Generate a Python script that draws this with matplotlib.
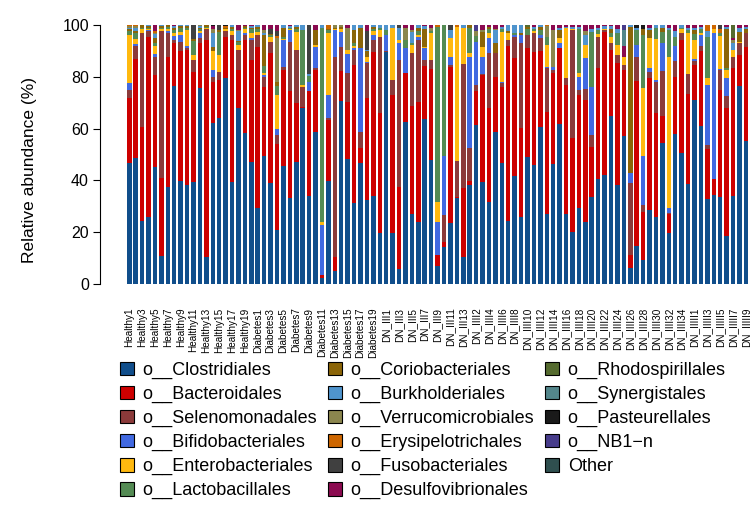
import matplotlib
matplotlib.use('Agg')
import matplotlib.pyplot as plt
from matplotlib.patches import Patch
import numpy as np

plt.rcParams['font.family'] = ['Liberation Sans', 'DejaVu Sans']

# sample groups (labels on the x axis)
groups = [('Healthy', 20), ('Diabetes', 20), ('DN_III', 13), ('DN_IIII', 35), ('DN_IIIII', 9)]
samples = [g + str(i) for g, n in groups for i in range(1, n + 1)]

# relative abundance (%) per order, one value per sample
clostridiales = [46.6, 48.5, 24.3, 26, 45, 10.8, 37.6, 76.4, 39.8, 38.2,
                 39.3, 75.8, 10.6, 62, 64.2, 79.7, 39.5, 68, 58.2, 47,
                 29.5, 49.4, 38.9, 20.8, 45.7, 33.3, 47.2, 67.8, 34.1, 58.8,
                 2.2, 39.8, 5.1, 70.7, 48.3, 31.1, 46.8, 32.4, 34.1, 19.6,
                 89.4, 19.6, 5.7, 62.7, 26.9, 24, 63.7, 47.9, 7, 14.4,
                 23.7, 33.3, 10.3, 38.2, 61.4, 39.5, 31.5, 58.6, 46.8, 24.3,
                 41.7, 26, 49.2, 45.9, 60.5, 27, 46.3, 61.6, 27, 20.2,
                 29.5, 24, 33.7, 40.5, 42.1, 64.9, 38.2, 57.1, 6, 14.7,
                 9.3, 28.6, 26, 54.3, 19.8, 57.8, 50.7, 38.6, 71, 61,
                 32.7, 34.4, 33.5, 18.5, 34.1, 76.6, 55.3]
bacteroidales = [25.4, 38.5, 36.2, 69.5, 35.7, 30.2, 50.2, 16.6, 50.2, 52.2,
                 42.7, 17.2, 83.6, 16, 14.6, 15.8, 54.7, 14.6, 36, 39.5,
                 62.1, 26.8, 50.1, 33.2, 36.9, 41.3, 22.8, 0.5, 40.4, 23.8,
                 1.3, 23.5, 5.2, 11.5, 22.1, 53.5, 5.6, 39.6, 55.6, 46.3,
                 0.3, 53.4, 31.9, 18.6, 42, 46.4, 20.6, 35, 4.2, 1.9,
                 60.2, 0.4, 26.9, 1.7, 13.1, 41.2, 36.3, 21.4, 29.4, 67.6,
                 45.7, 34.1, 41.8, 43.8, 29.5, 39.5, 35, 29.4, 49.8, 36,
                 43.5, 47, 19.3, 42.8, 55.3, 25.4, 47, 25.5, 5.2, 63.7,
                 18.6, 50.8, 40.2, 10.6, 7.1, 22.2, 43.5, 34.8, 13.6, 29,
                 19.3, 6, 41.4, 49.3, 49.2, 11.8, 36.3]
selenomonadales = [3, 5, 36.3, 2, 7.1, 56.8, 9, 1.3, 3.5, 0.8,
                   4.5, 2, 4.1, 2, 3.2, 2, 2, 7.7, 2, 7.7,
                   4.4, 3.8, 4.5, 3.5, 1.3, 18.9, 20.3, 7.9, 0, 0.7,
                   0, 0.7, 77.5, 9.4, 11.2, 5.7, 6.4, 13.2, 4.5, 29.6,
                   0.3, 5.8, 48.9, 0, 20.1, 23.8, 2.2, 3.6, 0, 10.3,
                   0.6, 13.9, 47.6, 12.5, 2.3, 0.4, 21.2, 9, 1.3, 2.3,
                   8.1, 32.8, 5.1, 7.1, 4.9, 16.8, 1.3, 0, 2.6, 41.8,
                   1.9, 4.2, 4.5, 12.2, 0.6, 2.6, 3.2, 2, 27.7, 9.4,
                   2.6, 2.3, 11.9, 17.5, 0.7, 6.2, 2.6, 7.7, 1.6, 1.9,
                   1.7, 0, 7.7, 4.8, 4.2, 4.5, 5.2]
bifidobacteriales = [2.7, 0.8, 0.2, 0.5, 0.9, 0, 0.7, 1.5, 2.5, 0.5,
                     0, 2, 0, 2.6, 0, 0, 0, 0, 0.9, 0.6,
                     0, 0.6, 0, 2.2, 10.3, 4.5, 0, 0, 3.5, 8.3,
                     19.3, 9, 10.2, 5.8, 7.2, 0.7, 32.2, 0.6, 1.9, 0,
                     6, 0, 6.5, 9.7, 0, 1, 4.5, 0, 12.8, 22.8,
                     3.3, 0, 0, 35.4, 16.8, 6.4, 5.9, 0, 0.5, 0,
                     0.5, 3.2, 0, 0, 1.3, 0.5, 1.3, 1.9, 0, 0,
                     5.1, 11.9, 18.7, 0, 0, 0, 0, 0, 3.8, 4.5,
                     18.9, 1.6, 0.6, 10.8, 1.9, 5.7, 0, 0, 0.5, 4.2,
                     23.1, 56.4, 0.5, 6.8, 0, 0, 0]
enterobacteriales = [18.3, 1.7, 1.5, 0.5, 3.3, 0.7, 1, 1, 1.3, 6.2,
                     1.9, 0.5, 0.5, 7.4, 6.4, 1, 1.3, 2, 1.3, 2.2,
                     1.3, 0.7, 2, 13.3, 0.5, 0.5, 7.1, 0.6, 0, 0.7,
                     1.2, 23.8, 0.5, 1, 1.5, 1, 0, 2, 1.5, 2.5,
                     0, 19.9, 1.3, 0, 3.3, 1, 0.5, 10.3, 7.8, 0,
                     7.1, 51.8, 13.9, 1.3, 0, 4.1, 1.9, 0, 19.4, 2.6,
                     0, 0, 0, 0.7, 0, 8.5, 0, 1.9, 19.3, 0.5,
                     1.3, 5.2, 0, 1, 0.5, 2.6, 3.9, 3.2, 0, 0,
                     26.4, 11.6, 15.9, 0, 58.3, 0, 1.5, 15.9, 7.5, 1,
                     2.6, 1.5, 12.7, 3.2, 2.8, 0.5, 0]
lactobacillales = [1.5, 2.5, 0.5, 0.5, 1, 0.5, 0.8, 1.2, 1.5, 1,
                   5.6, 0.8, 0.5, 0, 9, 0, 1, 1, 0.6, 1.5,
                   1, 2.7, 0.5, 3.4, 0.5, 0.5, 1, 21.2, 2.5, 0,
                   74.7, 1.2, 0, 0, 0, 1, 0, 0, 1, 1,
                   2, 0, 0, 3.2, 0.6, 1.5, 0, 1, 67.3, 50.6,
                   0, 0, 0, 9.9, 2, 0, 1.5, 0, 1, 0,
                   1, 0, 2.5, 1, 1.9, 3, 0, 0, 0, 0,
                   17, 0, 21.2, 1.5, 0, 1.3, 4.5, 0, 0, 5.7,
                   20.3, 0, 4.1, 4.2, 10.3, 3.6, 0.7, 1, 2.5, 1.5,
                   16.1, 0, 1.2, 0.7, 0, 0, 0]
coriobacteriales = [1, 0.5, 1, 0.5, 2, 0.5, 0.7, 1, 0.7, 0.6,
                    0.5, 0.7, 0.7, 1.5, 0.8, 0.5, 0.8, 0.5, 0.5, 0.5,
                    0.9, 12, 0.5, 1.6, 3.8, 0, 0.8, 0, 0, 5.7,
                    0, 0.5, 0.5, 1, 0, 5, 7.7, 2, 0.7, 0,
                    0, 0, 0, 0, 0, 1, 7, 0, 0, 0,
                    0, 0, 0, 1, 0, 5.8, 1, 4, 0, 0.7,
                    0, 0.9, 0.7, 0, 1.1, 0, 0, 3.2, 0, 0,
                    0, 0, 0, 0, 0, 1.5, 0, 0, 56.7, 0,
                    2.4, 3.1, 0, 1.3, 0, 0, 0, 0, 1.3, 0,
                    0, 0, 0, 15, 0, 4, 1.5]
burkholderiales = [0.5, 1.5, 0, 0.5, 1.5, 0.5, 0, 0.5, 0.5, 0.5,
                   0, 0.5, 0, 5.5, 0, 0, 0.7, 3.7, 0, 0.5,
                   0.8, 1, 0, 0, 1, 0.5, 0.8, 2, 0.7, 0,
                   1.3, 0, 0, 0, 0, 2, 1.3, 0.7, 0.7, 1,
                   2, 1.3, 4.4, 0, 4.5, 1.3, 1, 0, 0, 0,
                   3.1, 0, 1.3, 0, 0, 0, 0, 5.1, 1, 2.5,
                   3, 3, 0, 0.8, 0.8, 0, 0, 1, 0.7, 0.8,
                   1, 3.8, 1, 1, 1, 1.2, 1.7, 0, 0.6, 1,
                   0, 0.8, 1.3, 1.3, 0.7, 2.3, 1, 1, 1, 0.7,
                   2, 0, 0, 1, 2.9, 1.3, 1]
verrucomicrobiales = [0.5, 0.5, 0, 0, 0.5, 0, 0, 0, 0, 0,
                      0, 0.5, 0, 1.5, 0, 0, 0, 0.5, 0, 0,
                      0, 1, 0, 16.8, 0, 0, 0, 0, 0, 0,
                      0, 0, 1, 0.6, 8.7, 0, 0, 0, 0, 0,
                      0, 0, 0, 4.5, 0.6, 0, 0, 1, 0, 0,
                      0, 0, 0, 0, 2, 0.8, 0, 0.5, 0, 0,
                      0, 0, 0, 0, 0, 4.2, 14.1, 0, 0, 0,
                      0, 1.5, 0, 0, 0, 0, 0, 0, 0, 0,
                      0, 0, 0, 0, 0, 0, 0, 0, 0, 0,
                      0, 0, 0, 0, 1.2, 0, 0]
erysipelotrichales = [0.5, 0.5, 0, 0, 0.5, 0, 0, 0, 0, 0,
                      0, 0, 0, 0, 0, 0.5, 0, 0, 0, 0,
                      0, 0, 0, 1, 0, 0, 0, 0, 0, 0,
                      0, 1.5, 0, 0, 0, 0, 0, 0, 0, 0,
                      0, 0, 0, 0, 0, 0, 0, 0, 0.9, 0,
                      0, 0.6, 0, 0, 0, 0, 0, 0, 0, 0,
                      0, 0, 0, 0, 0, 0.5, 0, 0, 0, 0,
                      0, 0, 0, 0, 0, 0, 0, 0, 0, 0,
                      0, 0, 0, 0, 0, 0, 0, 0, 0, 0,
                      2.5, 1.7, 1.5, 0, 0, 0, 0]
fusobacteriales = [0, 0, 0, 0, 0, 0, 0, 0, 0, 0,
                   5.5, 0, 0, 0, 1.8, 0, 0, 0, 0, 0,
                   0, 0, 2, 1.7, 0, 0, 0, 0, 18.8, 0,
                   0, 0, 0, 0, 0, 0, 0, 7.2, 0, 0,
                   0, 0, 1.3, 0, 0, 0, 0, 0, 0, 0,
                   2, 0, 0, 0, 0, 0, 0, 0, 0, 0,
                   0, 0, 0, 0, 0, 0, 0, 0, 0, 0,
                   0, 0, 0, 0, 0, 0, 0, 0, 0, 0,
                   0, 0, 0, 0, 0, 0, 0, 0, 0, 0,
                   0, 0, 1.5, 0, 0, 0, 0]
desulfovibrionales = [0, 0, 0, 0, 2.5, 0, 0, 0.5, 0, 0,
                      0, 0, 0, 1, 0, 0, 0, 2, 0.5, 0.5,
                      0, 2, 1.5, 2.5, 0, 0.5, 0, 0, 0, 2,
                      0, 0, 0, 0, 1, 0, 0, 2.3, 0, 0,
                      0, 0, 0, 1.3, 2, 0, 0.5, 1.2, 0, 0,
                      0, 0, 0, 0, 0, 1.8, 0.7, 1.4, 0.6, 0,
                      0, 0, 0, 0.7, 0, 0, 2, 1, 0.6, 0.7,
                      0.7, 2.4, 1.6, 1, 0.5, 0.5, 1.5, 3.9, 0, 0,
                      0, 1.2, 0, 0, 1.2, 2.2, 0, 1, 1, 0.7,
                      0, 0, 0, 0.7, 0.6, 1.3, 0.7]
rhodospirillales = [0] * 62 + [0.7] + [0] * 31 + [5, 0, 0]
synergistales = [0] * 77 + [6.3] + [0] * 19
pasteurellales = ([0] * 13 + [0.5, 0, 0.5] + [0] * 63 + [1, 1.5] + [0] * 16)
nb1n = [0] * 54 + [2.4] + [0] * 22 + [2] + [0] * 19
other = [0] * 97

orders = ['o__Clostridiales', 'o__Bacteroidales', 'o__Selenomonadales',
          'o__Bifidobacteriales', 'o__Enterobacteriales', 'o__Lactobacillales',
          'o__Coriobacteriales', 'o__Burkholderiales', 'o__Verrucomicrobiales',
          'o__Erysipelotrichales', 'o__Fusobacteriales', 'o__Desulfovibrionales',
          'o__Rhodospirillales', 'o__Synergistales', 'o__Pasteurellales',
          'o__NB1\u2212n', 'Other']
values = [clostridiales, bacteroidales, selenomonadales, bifidobacteriales,
          enterobacteriales, lactobacillales, coriobacteriales, burkholderiales,
          verrucomicrobiales, erysipelotrichales, fusobacteriales,
          desulfovibrionales, rhodospirillales, synergistales, pasteurellales,
          nb1n, other]
colors = ['#104E8B', '#CD0000', '#8B3A3A', '#4169E1', '#FFB90F', '#548B54',
          '#8B6508', '#4F94CD', '#8B864E', '#CD6600', '#404040', '#8B0A50',
          '#556B2F', '#53868B', '#1A1A1A', '#473C8B', '#2F4F4F']

fig = plt.figure(figsize=(7.51, 5.05), dpi=100)
ax = fig.add_axes([100/751, 1 - 284/505, 651/751, 259/505])

x = np.arange(len(samples))
bottom = np.zeros(len(samples))
for name, vals, col in zip(orders, values, colors):
    ax.bar(x, vals, bottom=bottom, width=0.7, color=col, linewidth=0)
    bottom += np.array(vals)

ax.set_xlim(-4.56, 96.8)
ax.set_ylim(0, 100)
for s in ['top', 'right', 'bottom']:
    ax.spines[s].set_visible(False)
ax.spines['left'].set_bounds(0, 100)
ax.set_yticks(np.arange(0, 101, 20))
ax.tick_params(axis='y', length=5, labelsize=11.5, pad=3)
# only every other sample name fits under the bars
ax.set_xticks(x[::2])
ax.set_xticklabels(samples[::2], rotation=90, fontsize=7.2, va='top')
ax.tick_params(axis='x', length=0, pad=17)

fig.text(30/751, 1 - 170/505, 'Relative abundance (%)', rotation=90,
         ha='center', va='center', fontsize=12.5)

handles = [Patch(facecolor=c, edgecolor='black', linewidth=0.8) for c in colors]
fig.legend(handles, orders, ncol=3, loc='upper left',
           bbox_to_anchor=(120/751, 1 - 362/505), frameon=False, fontsize=13,
           handlelength=0.75, handleheight=0.75, handletextpad=0.5,
           labelspacing=0.38, columnspacing=0.6, borderaxespad=0, borderpad=0)

fig.savefig('out.png', dpi=100)
